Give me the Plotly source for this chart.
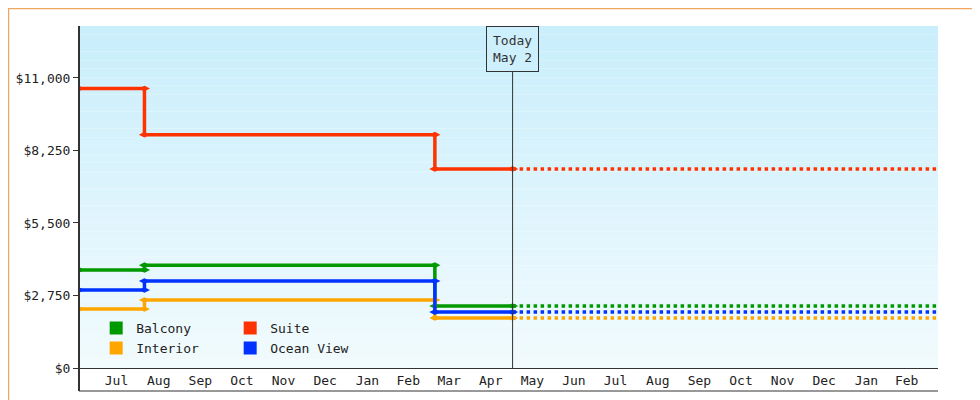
import plotly.graph_objects as go

names = ["Balcony", "Suite", "Interior", "Ocean View"]
colors = ["#009900", "#ff3300", "#ffa500", "#0033ff"]
change_dates = ["2023-06-19", "2023-08-06", "2024-03-06", "2024-05-02"]
end_date = "2025-03-10"
prices = {
    "Balcony": [3720, 3900, 2350],
    "Suite": [10600, 8850, 7550],
    "Interior": [2240, 2580, 1900],
    "Ocean View": [2960, 3300, 2120],
}
ytick_vals = [0, 2750, 5500, 8250, 11000]
ytick_text = ["$0", "$2,750", "$5,500", "$8,250", "$11,000"]
today = "2024-05-02"

fig = go.Figure()

# gradient background
N = 40
top = (0xc9, 0xee, 0xfc)
bot = (0xf2, 0xfb, 0xfe)
for i in range(N):
    t = i / (N - 1)
    c = tuple(int(bot[k] + (top[k] - bot[k]) * t) for k in range(3))
    fig.add_shape(type="rect", xref="paper", yref="paper", x0=0, x1=1,
                  y0=i / N, y1=(i + 1) / N, line_width=0,
                  fillcolor="rgb(%d,%d,%d)" % c, layer="below")

for name, col in zip(names, colors):
    v = prices[name]
    xs = [change_dates[0], change_dates[1], change_dates[1], change_dates[2],
          change_dates[2], change_dates[3]]
    ys = [v[0], v[0], v[1], v[1], v[2], v[2]]
    fig.add_trace(go.Scatter(x=xs, y=ys, mode="lines+markers", showlegend=False,
                             line=dict(color=col, width=3.5),
                             marker=dict(color=col, size=8, symbol="diamond-wide")))
    fig.add_trace(go.Scatter(x=[change_dates[3], end_date], y=[v[2], v[2]], mode="lines",
                             showlegend=False, line=dict(color=col, width=3.5, dash="dot")))

for i, (name, col) in enumerate(zip(names, colors)):
    fig.add_trace(go.Scatter(x=[None], y=[None], mode="markers", name=name,
                             marker=dict(symbol="square", size=13, color=col),
                             legend="legend" if i < 2 else "legend2"))

fig.add_shape(type="line", x0=today, x1=today, xref="x", yref="paper", y0=0, y1=1,
              line=dict(color="#333", width=1))
fig.add_annotation(x=today, xref="x", y=1.0, yref="paper", yanchor="top",
                   text="Today<br>May 2", showarrow=False, bordercolor="#333",
                   borderwidth=1, borderpad=6, bgcolor="#cdf0fc",
                   font=dict(family="DejaVu Sans Mono", size=13, color="#333"))

W, L, R, T, B = 980, 71, 50, 18, 40
pw, ph = W - L - R, 400 - T - B
fig.add_shape(type="rect", xref="paper", yref="paper",
              x0=-(L - 0.5) / pw, x1=(W - L - 0.5) / pw,
              y0=-(B - 0.5) / ph, y1=(ph + T - 0.5) / ph,
              line=dict(color="#f0a860", width=1.5))
fig.add_shape(type="line", xref="paper", yref="paper", x0=0, x1=1,
              y0=-23 / ph, y1=-23 / ph, line=dict(color="#333", width=1))
fig.add_shape(type="line", xref="paper", yref="paper", x0=0, x1=0,
              y0=-23 / ph, y1=1, line=dict(color="#333", width=2))

font = dict(family="DejaVu Sans Mono", size=13, color="#222")
fig.update_layout(
    width=W, height=400, margin=dict(l=L, r=R, t=T, b=B, autoexpand=False),
    paper_bgcolor="white", plot_bgcolor="white", font=font,
    xaxis=dict(range=[change_dates[0], end_date], type="date", dtick="M1",
               tick0="2023-07-01", tickformat="%b", ticklabelmode="period",
               ticks="", automargin=False, showgrid=False,
               minor=dict(ticks="outside", ticklen=23, tickcolor="#333",
                          dtick="M1", tick0="2023-07-01", showgrid=False),
               zeroline=False, showline=True, linecolor="#333", linewidth=1),
    yaxis=dict(range=[0, 12970], tickvals=ytick_vals, ticktext=ytick_text,
               ticks="outside", ticklen=5, tickcolor="#333", showgrid=False,
               automargin=False, zeroline=False, showline=False),
    legend=dict(orientation="h", x=0.02, y=0.117, xanchor="left", yanchor="middle",
                bgcolor="rgba(0,0,0,0)", entrywidth=89, itemwidth=30, font=font),
    legend2=dict(orientation="h", x=0.02, y=0.058, xanchor="left", yanchor="middle",
                 bgcolor="rgba(0,0,0,0)", entrywidth=89, itemwidth=30, font=font),
)
fig.write_html("out.html")
